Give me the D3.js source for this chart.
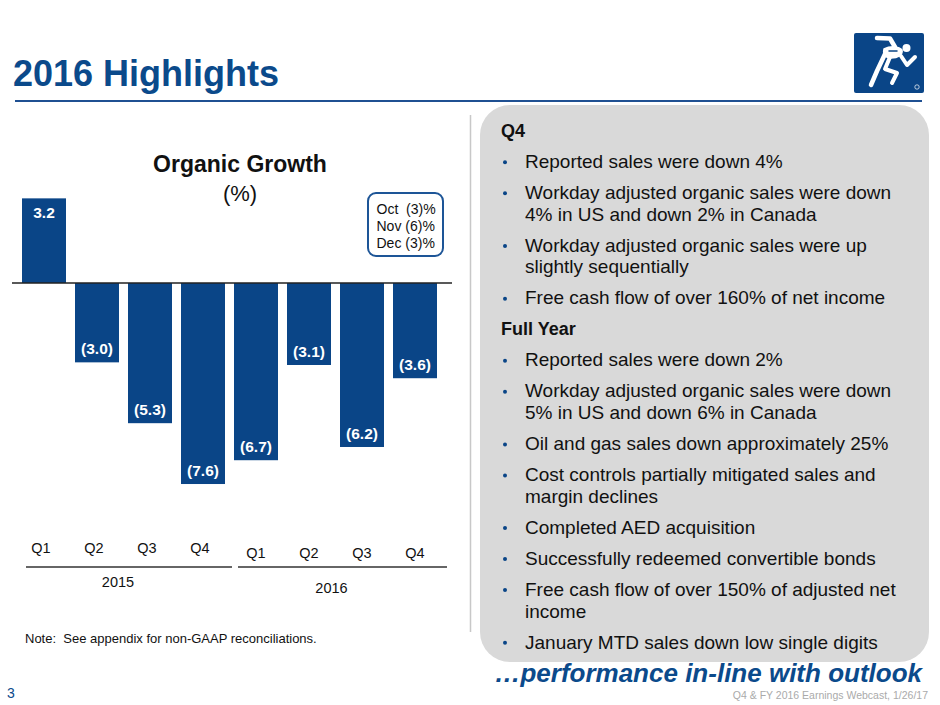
<!DOCTYPE html>
<html>
<head>
<meta charset="utf-8">
<script src="https://cdn.jsdelivr.net/npm/d3@7"></script>
<style>
  html, body { margin: 0; padding: 0; background: #fff; }
  svg { display: block; font-family: "Liberation Sans", Arial, Helvetica, sans-serif; }
  .pre { white-space: pre; }
</style>
</head>
<body>
<svg id="chart" width="940" height="705"></svg>
<script>
// ---------- data ----------
const quarters = ["Q1", "Q2", "Q3", "Q4", "Q1", "Q2", "Q3", "Q4"];
const quarterYear = ["2015", "2015", "2015", "2015", "2016", "2016", "2016", "2016"];
const years = ["2015", "2016"];
const growth = [3.2, -3.0, -5.3, -7.6, -6.7, -3.1, -6.2, -3.6];
const calloutLines = ["Oct  (3)%", "Nov (6)%", "Dec (3)%"];
const chartTitle = "Organic Growth";
const chartUnit = "(%)";
const slideTitle = "2016 Highlights";
const noteText = "Note:  See appendix for non-GAAP reconciliations.";
const tagline = "\u2026performance in-line with outlook";
const footerText = "Q4 & FY 2016 Earnings Webcast, 1/26/17";
const pageNumber = "3";
const highlights = [
  { head: "Q4" },
  { bullet: ["Reported sales were down 4%"] },
  { bullet: ["Workday adjusted organic sales were down", "4% in US and down 2% in Canada"] },
  { bullet: ["Workday adjusted organic sales were up", "slightly sequentially"] },
  { bullet: ["Free cash flow of over 160% of net income"] },
  { head: "Full Year" },
  { bullet: ["Reported sales were down 2%"] },
  { bullet: ["Workday adjusted organic sales were down", "5% in US and down 6% in Canada"] },
  { bullet: ["Oil and gas sales down approximately 25%"] },
  { bullet: ["Cost controls partially mitigated sales and", "margin declines"] },
  { bullet: ["Completed AED acquisition"] },
  { bullet: ["Successfully redeemed convertible bonds"] },
  { bullet: ["Free cash flow of over 150% of adjusted net", "income"] },
  { bullet: ["January MTD sales down low single digits"] }
];

// ---------- styles ----------
const BLUE = "#0a4587";
const TITLE_BLUE = "#0b4a8b";
const svg = d3.select("#chart");

// ---------- header ----------
svg.append("text").attr("x", 13).attr("y", 86)
  .attr("font-size", 36).attr("font-weight", "bold").attr("fill", TITLE_BLUE)
  .text(slideTitle);
svg.append("line").attr("x1", 15).attr("x2", 922).attr("y1", 101).attr("y2", 101)
  .attr("stroke", "#1f5092").attr("stroke-width", 2.2);

// logo
const logo = svg.append("g").attr("transform", "translate(854,33)");
logo.append("rect").attr("width", 70).attr("height", 60).attr("rx", 2).attr("fill", BLUE);
const wl = logo.append("g").attr("fill", "none").attr("stroke", "#fff")
  .attr("stroke-linecap", "round").attr("stroke-linejoin", "round");
wl.append("path").attr("d", "M23,5 L36,5.5 L41,14").attr("stroke-width", 4.5);
wl.append("path").attr("d", "M30,16 C36,13 45,13 48,17 C49,22 44,25 37,25 C31,25 28.5,20 30,16 Z")
  .attr("fill", "#fff").attr("stroke-width", 1.5);
wl.append("path").attr("d", "M35,18 L43,18").attr("stroke", BLUE).attr("stroke-width", 1.5);
wl.append("circle").attr("cx", 52.5).attr("cy", 15).attr("r", 4).attr("fill", "#fff").attr("stroke", "none");
wl.append("path").attr("d", "M31,21 L23,38 L17,52").attr("stroke-width", 4.5);
wl.append("path").attr("d", "M36,24 L31,36 L43,40 L38,50").attr("stroke-width", 4);
wl.append("path").attr("d", "M47,23 L53,32 L61,24").attr("stroke-width", 4);
logo.append("circle").attr("cx", 63).attr("cy", 54).attr("r", 2.2)
  .attr("fill", "none").attr("stroke", "#fff").attr("stroke-width", 0.7);

// ---------- right panel ----------
svg.append("line").attr("x1", 470.5).attr("x2", 470.5).attr("y1", 115).attr("y2", 632)
  .attr("stroke", "#c8c8c8").attr("stroke-width", 1.5);
svg.append("rect").attr("x", 480).attr("y", 105).attr("width", 449).attr("height", 557)
  .attr("rx", 30).attr("ry", 30).attr("fill", "#d9d9d9");

const panel = svg.append("g");
let yPos = 137;
const PARA = 31.0, LINE = 21.7;
highlights.forEach((item, i) => {
  if (i > 0) yPos += PARA;
  if (item.head) {
    panel.append("text").attr("x", 501).attr("y", yPos)
      .attr("font-size", 18).attr("font-weight", "bold").attr("fill", "#111")
      .text(item.head);
  } else {
    panel.append("circle").attr("cx", 505).attr("cy", yPos - 5.7).attr("r", 2).attr("fill", BLUE);
    item.bullet.forEach((ln, j) => {
      if (j > 0) yPos += LINE;
      panel.append("text").attr("x", 525).attr("y", yPos)
        .attr("font-size", 19).attr("fill", "#111").text(ln);
    });
  }
});

// ---------- chart ----------
const zeroY = 283, pxPerUnit = 26.45;
const x = d3.scaleBand()
  .domain(d3.range(growth.length))
  .range([17.5, 441.5])
  .paddingInner(0.17)
  .paddingOuter(0.085);
const y = d3.scaleLinear().domain([-8, 4])
  .range([zeroY + 8 * pxPerUnit, zeroY - 4 * pxPerUnit]);

svg.append("text").attr("x", 240).attr("y", 172).attr("text-anchor", "middle")
  .attr("font-size", 23).attr("font-weight", "bold").attr("fill", "#111").text(chartTitle);
svg.append("text").attr("x", 240).attr("y", 201).attr("text-anchor", "middle")
  .attr("font-size", 22).attr("fill", "#111").text(chartUnit);

svg.append("g").selectAll("rect").data(growth).join("rect")
  .attr("x", (d, i) => x(i))
  .attr("width", x.bandwidth())
  .attr("y", d => y(Math.max(0, d)))
  .attr("height", d => Math.abs(y(d) - y(0)))
  .attr("fill", BLUE);

const fmt = v => v < 0 ? "(" + Math.abs(v).toFixed(1) + ")" : v.toFixed(1);
svg.append("g").selectAll("text").data(growth).join("text")
  .attr("x", (d, i) => x(i) + x.bandwidth() / 2)
  .attr("y", d => d >= 0 ? y(d) + 20 : y(d) - 8)
  .attr("text-anchor", "middle")
  .attr("font-size", 15.5).attr("font-weight", "bold").attr("fill", "#fff")
  .text(fmt);

svg.append("line").attr("x1", 12).attr("x2", 452).attr("y1", y(0)).attr("y2", y(0))
  .attr("stroke", "#222").attr("stroke-width", 1.5);

// callout
svg.append("rect").attr("x", 368).attr("y", 193).attr("width", 75).attr("height", 63)
  .attr("rx", 8).attr("fill", "#fff").attr("stroke", "#1d5597").attr("stroke-width", 2);
svg.append("g").selectAll("text").data(calloutLines).join("text")
  .attr("class", "pre")
  .attr("x", 376.5).attr("y", (d, i) => 214 + i * 16.9)
  .attr("font-size", 14).attr("fill", "#111")
  .text(d => d);

// quarter labels
svg.append("g").selectAll("text").data(quarters).join("text")
  .attr("x", (d, i) => x(i) + x.bandwidth() / 2 - (quarterYear[i] === years[0] ? 3 : 0))
  .attr("y", (d, i) => quarterYear[i] === years[0] ? 553 : 558)
  .attr("text-anchor", "middle")
  .attr("font-size", 14.5).attr("fill", "#111")
  .text(d => d);

// year groups
years.forEach((yr, k) => {
  const idx = d3.range(quarters.length).filter(i => quarterYear[i] === yr);
  const x0 = x(idx[0]) + 4;
  const x1 = x(idx[idx.length - 1]) + x.bandwidth() + (k === 0 ? 7 : 10);
  svg.append("line").attr("x1", x0).attr("x2", x1).attr("y1", 567).attr("y2", 567)
    .attr("stroke", "#333").attr("stroke-width", 1.5);
  svg.append("text").attr("x", (x0 + x1) / 2 - 11).attr("y", k === 0 ? 587 : 593)
    .attr("text-anchor", "middle").attr("font-size", 14.5).attr("fill", "#111").text(yr);
});

// ---------- footer ----------
svg.append("text").attr("class", "pre").attr("x", 25).attr("y", 643)
  .attr("font-size", 13).attr("fill", "#111").text(noteText);
svg.append("text").attr("x", 7).attr("y", 698).attr("font-size", 14).attr("fill", TITLE_BLUE).text(pageNumber);
svg.append("text").attr("x", 922).attr("y", 682).attr("text-anchor", "end")
  .attr("font-size", 26).attr("font-weight", "bold").attr("font-style", "italic")
  .attr("fill", TITLE_BLUE).text(tagline);
svg.append("text").attr("x", 928).attr("y", 699).attr("text-anchor", "end")
  .attr("font-size", 10.5).attr("fill", "#aaaaaa").text(footerText);
</script>
</body>
</html>
